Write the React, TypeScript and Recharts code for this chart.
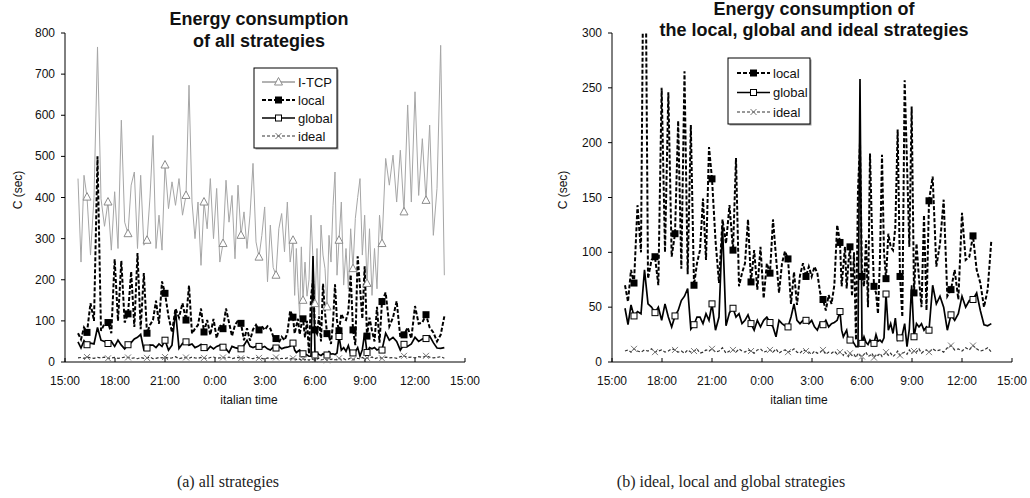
import React from "react";
import { LineChart, Line, XAxis, YAxis } from "recharts";

// hours elapsed since 15:00 of the first day
const hours = [
  0.78, 0.96, 1.14, 1.32, 1.53, 1.74, 1.95, 2.16, 2.37, 2.58,
  2.78, 2.98, 3.18, 3.38, 3.58, 3.78, 3.97, 4.16, 4.35, 4.54,
  4.73, 4.92, 5.10, 5.28, 5.46, 5.64, 5.82, 6.00, 6.21, 6.42,
  6.63, 6.84, 7.05, 7.26, 7.44, 7.62, 7.80, 7.98, 8.16, 8.34,
  8.53, 8.72, 8.91, 9.10, 9.29, 9.48, 9.66, 9.84, 10.02, 10.20,
  10.38, 10.56, 10.74, 10.92, 11.10, 11.28, 11.46, 11.64, 11.81, 11.98,
  12.15, 12.32, 12.49, 12.66, 12.83, 13.00, 13.17, 13.34, 13.51, 13.68,
  13.78, 13.88, 13.98, 14.08, 14.18, 14.28, 14.40, 14.52, 14.64, 14.76,
  14.88, 15.00, 15.12, 15.24, 15.36, 15.48, 15.60, 15.72, 15.84, 15.96,
  16.08, 16.20, 16.32, 16.44, 16.58, 16.72, 16.86, 17.00, 17.14, 17.28,
  17.42, 17.56, 17.70, 17.84, 17.98, 18.12, 18.27, 18.42, 18.57, 18.72,
  18.87, 19.02, 19.24, 19.46, 19.68, 19.90, 20.12, 20.34, 20.56, 20.78,
  21.00, 21.22, 21.44, 21.66, 21.88, 22.10, 22.32, 22.54, 22.76,
];

const itcp = [
  446, 243, 454, 401, 260, 400, 766, 397, 330, 389,
  272, 414, 276, 588, 340, 312, 430, 462, 276, 454,
  284, 296, 401, 551, 276, 357, 272, 479, 373, 438,
  381, 446, 357, 405, 673, 389, 300, 389, 235, 389,
  324, 446, 300, 422, 243, 288, 442, 340, 405, 251,
  430, 308, 365, 276, 357, 483, 292, 255, 308, 377,
  195, 333, 230, 211, 324, 361, 268, 389, 243, 296,
  162, 276, 182, 110, 280, 150, 243, 160, 200, 357,
  250, 142, 276, 114, 333, 260, 227, 134, 308, 243,
  380, 462, 211, 296, 389, 187, 276, 178, 324, 227,
  349, 400, 446, 260, 357, 191, 324, 162, 276, 178,
  357, 288, 495, 430, 503, 389, 515, 365, 625, 389,
  657, 405, 543, 393, 576, 308, 422, 770, 211,
];

const localS = [
  70, 55, 84, 72, 143, 100, 500, 76, 93, 96,
  70, 250, 100, 246, 96, 117, 220, 85, 265, 80,
  216, 70, 90, 102, 149, 93, 196, 167, 111, 72,
  130, 108, 143, 102, 186, 69, 81, 90, 130, 73,
  102, 66, 105, 58, 90, 81, 130, 96, 63, 90,
  101, 94, 53, 82, 52, 79, 90, 78, 87, 78,
  87, 81, 63, 57, 47, 61, 53, 70, 125, 109,
  69, 88, 105, 67, 90, 105, 60, 100, 20, 157,
  200, 78, 69, 111, 50, 190, 120, 69, 63, 44,
  95, 189, 100, 76, 117, 105, 102, 123, 212, 78,
  41, 257, 181, 105, 233, 63, 108, 76, 50, 134,
  47, 147, 169, 87, 108, 148, 60, 66, 84, 57,
  136, 93, 96, 115, 84, 72, 50, 66, 111,
];

const globalS = [
  49, 34, 52, 42, 46, 44, 84, 53, 50, 45,
  50, 38, 53, 41, 32, 42, 47, 56, 60, 67,
  30, 34, 41, 41, 35, 44, 38, 53, 29, 41,
  125, 33, 45, 49, 41, 44, 35, 38, 43, 35,
  29, 38, 32, 38, 41, 36, 32, 23, 38, 35,
  33, 32, 41, 53, 38, 35, 38, 38, 35, 38,
  32, 29, 36, 34, 38, 32, 35, 36, 38, 46,
  29, 23, 26, 29, 20, 20, 20, 17, 14, 14,
  258, 17, 23, 18, 16, 20, 17, 17, 25, 19,
  20, 18, 22, 62, 29, 35, 26, 40, 20, 22,
  25, 35, 14, 30, 70, 23, 35, 32, 35, 29,
  32, 29, 70, 53, 60, 50, 29, 43, 38, 44,
  60, 50, 56, 57, 63, 47, 34, 33, 35,
];

const idealS = [
  10, 11, 9, 12, 10, 9, 11, 10, 12, 9, 10, 11, 9,
  10, 12, 11, 9, 10, 8, 11, 9, 10, 12, 8, 9, 11,
  10, 12, 9, 10, 13, 8, 10, 11, 9, 12, 10, 9, 11,
  10, 8, 11, 12, 9, 10, 11, 9, 12, 8, 10, 11, 9,
  10, 12, 9, 8, 11, 10, 9, 7, 10, 8, 9, 11, 7,
  9, 8, 10, 7, 9, 8, 6, 9, 7, 5, 8, 6, 7,
  4, 8, 6, 5, 7, 9, 5, 6, 8, 4, 7, 6, 8,
  5, 7, 9, 6, 8, 5, 7, 10, 6, 8, 9, 7, 11,
  8, 10, 9, 12, 8, 10, 11, 9, 12, 10, 11, 9, 13,
  15, 11, 12, 10, 13, 11, 15, 12, 10, 11, 13, 9,
];

const timeTicks = [0, 3, 6, 9, 12, 15, 18, 21, 24];
const timeTickLabels = ["15:00", "18:00", "21:00", "0:00", "3:00", "6:00", "9:00", "12:00", "15:00"];
const yTicksAll = [0, 100, 200, 300, 400, 500, 600, 700, 800];
const yTicksZoom = [0, 50, 100, 150, 200, 250, 300];

const rows = hours.map((t, i) => ({
  t,
  itcp: itcp[i],
  local: localS[i],
  global: globalS[i],
  ideal: idealS[i],
}));

const FONT = "'Liberation Sans', Arial, Helvetica, sans-serif";
const SERIF = "'Liberation Serif', 'DejaVu Serif', serif";

function Marker({ kind, x, y }: { kind: string; x: number; y: number }) {
  if (kind === "tri")
    return <path d={`M${x},${y - 4.5} L${x + 4},${y + 3} L${x - 4},${y + 3} Z`} fill="#fff" stroke="#8c8c8c" strokeWidth={1} />;
  if (kind === "fsq") return <rect x={x - 3.5} y={y - 3.5} width={7} height={7} fill="#000" />;
  if (kind === "osq")
    return <rect x={x - 3} y={y - 3} width={6} height={6} fill="#fff" stroke="#000" strokeWidth={1} />;
  return (
    <path d={`M${x - 3},${y - 3}L${x + 3},${y + 3}M${x - 3},${y + 3}L${x + 3},${y - 3}`} stroke="#777" strokeWidth={1} />
  );
}

const dotFor = (kind: string) => (p: any) => {
  const { cx, cy, index } = p;
  if (index % 6 !== 3 || cx == null || cy == null) return <g key={`e${index}`} />;
  return (
    <g key={`m${index}`}>
      <Marker kind={kind} x={cx} y={cy} />
    </g>
  );
};

const XTick = (p: any) => {
  const i = timeTicks.indexOf(p.payload.value);
  return (
    <g>
      <line x1={p.x} x2={p.x} y1={p.y} y2={p.y - 4} stroke="#000" />
      <text x={p.x} y={p.y + 23} textAnchor="middle" fontSize={12} fontFamily={FONT} fill="#111">
        {timeTickLabels[i]}
      </text>
    </g>
  );
};

const YTickL = (p: any) => (
  <g>
    <line x1={p.x - 4} x2={p.x} y1={p.y} y2={p.y} stroke="#000" />
    <text x={p.x - 10} y={p.y + 4} textAnchor="end" fontSize={12} fontFamily={FONT} fill="#111">
      {p.payload.value}
    </text>
  </g>
);

const YTickR = (p: any) => <line x1={p.x - 4} x2={p.x} y1={p.y} y2={p.y} stroke="#000" />;

function Panel(props: any) {
  const { left, width, margin, yMax, yTicks, showItcp, clip } = props;
  return (
    <div style={{ position: "absolute", left, top: 0 }}>
      <LineChart width={width} height={420} data={rows} margin={margin}>
        <XAxis
          dataKey="t"
          type="number"
          domain={[0, 24]}
          ticks={timeTicks}
          interval={0}
          tickSize={0}
          tickMargin={0}
          tick={<XTick />}
          stroke="#000"
          height={30}
          allowDataOverflow
        />
        <YAxis
          type="number"
          domain={[0, yMax]}
          ticks={yTicks}
          interval={0}
          width={50}
          tickSize={0}
          tickMargin={0}
          tick={<YTickL />}
          stroke="#000"
          allowDataOverflow={clip}
        />
        <YAxis
          yAxisId="r"
          orientation="right"
          type="number"
          domain={[0, yMax]}
          ticks={yTicks}
          interval={0}
          width={0}
          tickSize={0}
          tickMargin={0}
          tick={<YTickR />}
          stroke="#000"
        />
        {showItcp && (
          <Line
            dataKey="itcp"
            stroke="#a6a6a6"
            strokeWidth={1}
            dot={dotFor("tri")}
            activeDot={false}
            isAnimationActive={false}
          />
        )}
        <Line
          dataKey="local"
          stroke="#000"
          strokeWidth={2}
          strokeDasharray="4 2"
          dot={dotFor("fsq")}
          activeDot={false}
          isAnimationActive={false}
        />
        <Line
          dataKey="global"
          stroke="#000"
          strokeWidth={1.7}
          dot={dotFor("osq")}
          activeDot={false}
          isAnimationActive={false}
        />
        <Line
          dataKey="ideal"
          stroke="#333"
          strokeWidth={1.2}
          strokeDasharray="3 2"
          dot={dotFor("x")}
          activeDot={false}
          isAnimationActive={false}
        />
      </LineChart>
    </div>
  );
}

function LegendBox({ x, y, w, h, items }: any) {
  return (
    <g>
      <rect x={x + 1.5} y={y + 1.5} width={w} height={h} fill="#999" />
      <rect x={x} y={y} width={w} height={h} fill="#fff" stroke="#000" strokeWidth={1} />
      {items.map((it: any, i: number) => {
        const cy = y + it.dy;
        return (
          <g key={i}>
            <line
              x1={x + it.sx}
              x2={x + it.sx + 33}
              y1={cy}
              y2={cy}
              stroke={it.stroke}
              strokeWidth={it.sw}
              strokeDasharray={it.dash}
            />
            <Marker kind={it.kind} x={x + it.sx + 16.5} y={cy} />
            <text x={x + it.sx + 36} y={cy + 4.5} fontSize={13} fontFamily={FONT} fill="#111">
              {it.label}
            </text>
          </g>
        );
      })}
    </g>
  );
}

const legendStyles: any = {
  itcp: { label: "I-TCP", stroke: "#666", sw: 1, dash: undefined, kind: "tri" },
  local: { label: "local", stroke: "#000", sw: 2, dash: "4 2", kind: "fsq" },
  global: { label: "global", stroke: "#000", sw: 1.7, dash: undefined, kind: "osq" },
  ideal: { label: "ideal", stroke: "#333", sw: 1.2, dash: "3 2", kind: "x" },
};

export default function App() {
  const leftItems = ["itcp", "local", "global", "ideal"].map((k, i) => ({
    ...legendStyles[k],
    dy: 14 + i * 18,
    sx: 8,
  }));
  const rightItems = ["local", "global", "ideal"].map((k, i) => ({
    ...legendStyles[k],
    dy: 15 + i * 19.5,
    sx: 9,
  }));
  return (
    <div
      style={{
        position: "absolute",
        left: 0,
        top: 0,
        width: 1030,
        height: 498,
        background: "#fff",
        overflow: "hidden",
      }}
    >
      <Panel
        left={0}
        width={500}
        margin={{ top: 33, right: 35, bottom: 28, left: 15 }}
        yMax={800}
        yTicks={yTicksAll}
        showItcp
        clip={false}
      />
      <Panel
        left={547}
        width={483}
        margin={{ top: 33, right: 18, bottom: 28, left: 15 }}
        yMax={300}
        yTicks={yTicksZoom}
        showItcp={false}
        clip
      />
      <svg
        width={1030}
        height={498}
        style={{ position: "absolute", left: 0, top: 0, pointerEvents: "none" }}
      >
        <g fontFamily={FONT} fontWeight="bold" fontSize={18} fill="#111" textAnchor="middle">
          <text x={259} y={25}>Energy consumption</text>
          <text x={259} y={47}>of all strategies</text>
          <text x={814} y={15}>Energy consumption of</text>
          <text x={814} y={36}>the local, global and ideal strategies</text>
        </g>
        <g fontFamily={FONT} fontSize={12} fill="#111" textAnchor="middle">
          <text transform="translate(22,190) rotate(-90)">C (sec)</text>
          <text transform="translate(567,190) rotate(-90)">C (sec)</text>
          <text x={249} y={404}>italian time</text>
          <text x={799} y={404}>italian time</text>
        </g>
        <LegendBox x={254} y={68} w={83} h={80} items={leftItems} />
        <LegendBox x={728} y={58} w={82} h={66} items={rightItems} />
        <g fontFamily={SERIF} fontSize={16} fill="#222" textAnchor="middle">
          <text x={228} y={487}>(a) all strategies</text>
          <text x={731} y={487}>(b) ideal, local and global strategies</text>
        </g>
      </svg>
    </div>
  );
}
